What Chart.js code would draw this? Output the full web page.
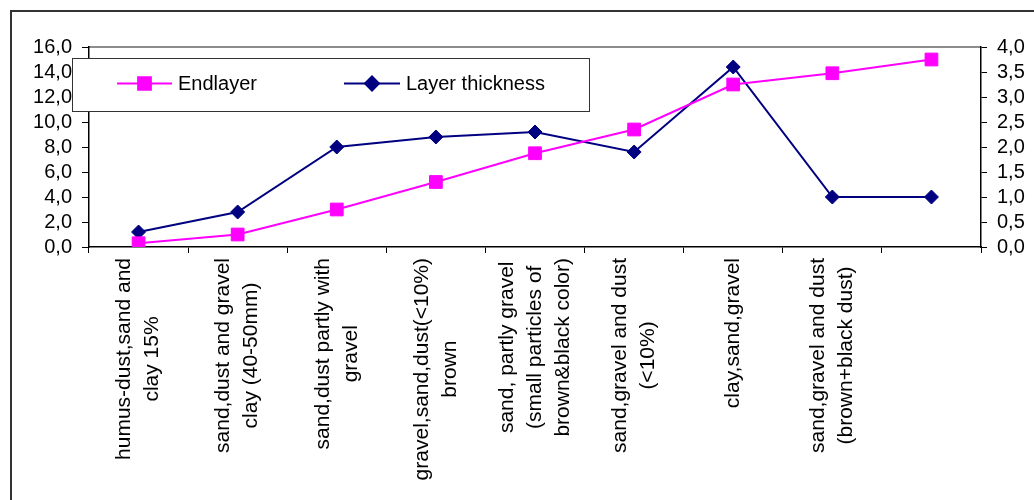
<!DOCTYPE html>
<html>
<head>
<meta charset="utf-8">
<title>Endlayer / Layer thickness</title>
<script src="https://cdn.jsdelivr.net/npm/chart.js@4/dist/chart.umd.min.js"></script>
<style>
    html, body { margin: 0; padding: 0; background: #fff; }
    #wrap { width: 1034px; height: 500px; position: relative; }
</style>
</head>
<body>
<div id="wrap"><canvas id="layerChart" width="1034" height="500"></canvas></div>
<script>
// chart data
const categories = [
    ['humus-dust,sand and', 'clay 15%'],
    ['sand,dust and gravel', 'clay (40-50mm)'],
    ['sand,dust partly with', 'gravel'],
    ['gravel,sand,dust(<10%)', 'brown'],
    ['sand, partly gravel', '(small particles of', 'brown&black color)'],
    ['sand,gravel and dust', '(<10%)'],
    ['clay,sand,gravel'],
    ['sand,gravel and dust', '(brown+black dust)'],
    ['']
];
const endlayer = [0.3, 1.0, 3.0, 5.2, 7.5, 9.4, 13.0, 13.9, 15.0];
const layerThickness = [0.3, 0.7, 2.0, 2.2, 2.3, 1.9, 3.6, 1.0, 1.0];
const seriesNames = ['Endlayer', 'Layer thickness'];
const leftAxisRange = [0, 16, 2];
const rightAxisRange = [0, 4, 0.5];

(function () {
    const FONT = "'Liberation Sans', Arial, sans-serif";
    const MAGENTA = '#ff00ff';
    const NAVY = '#000080';

    function commaFmt(v) { return Number(v).toFixed(1).replace('.', ','); }

    // frame, background and grey plot-area edge
    const backdrop = {
        id: 'backdrop',
        beforeDraw(chart) {
            const ctx = chart.ctx;
            const a = chart.chartArea;
            ctx.save();
            ctx.fillStyle = '#fff';
            ctx.fillRect(0, 0, chart.width, chart.height);
            ctx.strokeStyle = '#333';
            ctx.lineWidth = 2;
            ctx.strokeRect(11, 11, chart.width + 20, chart.height + 20);
            ctx.strokeStyle = '#8c8c8c';
            ctx.lineWidth = 2;
            ctx.beginPath();
            ctx.moveTo(a.left, a.top);
            ctx.lineTo(a.right, a.top);
            ctx.stroke();
            ctx.restore();
        }
    };

    // centred, rotated category labels (like the spreadsheet draws them)
    const catLabels = {
        id: 'catLabels',
        afterDraw(chart) {
            const ctx = chart.ctx;
            const xs = chart.scales.x;
            const top = chart.chartArea.bottom + 11;
            const lineH = 28;
            ctx.save();
            ctx.font = '21px ' + FONT;
            ctx.fillStyle = '#000';
            ctx.textAlign = 'center';
            ctx.textBaseline = 'middle';
            categories.forEach((lines, i) => {
                const x = xs.getPixelForValue(i);
                const maxW = Math.max(...lines.map(l => ctx.measureText(l).width));
                ctx.save();
                ctx.translate(x, top);
                ctx.rotate(-Math.PI / 2);
                lines.forEach((l, j) => {
                    ctx.fillText(l, -(maxW / 2), (j - (lines.length - 1) / 2) * lineH);
                });
                ctx.restore();
            });
            ctx.restore();
        }
    };

    // boxed legend with line + marker samples
    const boxLegend = {
        id: 'boxLegend',
        afterDraw(chart) {
            const ctx = chart.ctx;
            const box = { x: 72, y: 58, w: 517, h: 53 };
            const cy = box.y + box.h / 2 - 1;
            ctx.save();
            ctx.fillStyle = '#fff';
            ctx.fillRect(box.x, box.y, box.w, box.h);
            ctx.strokeStyle = '#333';
            ctx.lineWidth = 1;
            ctx.strokeRect(box.x + 0.5, box.y + 0.5, box.w, box.h);

            const items = [
                { x0: 117, x1: 172, color: MAGENTA, style: 'rect', radius: 9 },
                { x0: 344, x1: 400, color: NAVY, style: 'rectRot', radius: 7 }
            ];
            ctx.font = '20px ' + FONT;
            ctx.textBaseline = 'middle';
            items.forEach((it, i) => {
                ctx.strokeStyle = it.color;
                ctx.lineWidth = 2;
                ctx.beginPath();
                ctx.moveTo(it.x0, cy);
                ctx.lineTo(it.x1, cy);
                ctx.stroke();
                ctx.fillStyle = it.color;
                Chart.helpers.drawPoint(ctx, { pointStyle: it.style, radius: it.radius, borderWidth: 1 }, (it.x0 + it.x1) / 2, cy);
                ctx.fill();
                ctx.fillStyle = '#000';
                ctx.fillText(seriesNames[i], it.x1 + 6, cy + 1);
            });
            ctx.restore();
        }
    };

    const tickFont = { family: FONT, size: 20 };

    new Chart(document.getElementById('layerChart').getContext('2d'), {
        type: 'line',
        data: {
            labels: categories,
            datasets: [{
                label: seriesNames[0],
                data: endlayer,
                yAxisID: 'y',
                borderColor: MAGENTA,
                backgroundColor: MAGENTA,
                borderWidth: 2,
                pointStyle: 'rect',
                pointRadius: 9,
                pointBorderWidth: 1,
                tension: 0
            }, {
                label: seriesNames[1],
                data: layerThickness,
                yAxisID: 'y1',
                borderColor: NAVY,
                backgroundColor: NAVY,
                borderWidth: 2,
                pointStyle: 'rectRot',
                pointRadius: 7,
                pointBorderWidth: 1,
                tension: 0
            }]
        },
        options: {
            responsive: false,
            animation: false,
            events: [],
            layout: { padding: { top: 47, left: 0, right: 0, bottom: 0 } },
            plugins: {
                legend: { display: false },
                tooltip: { enabled: false }
            },
            scales: {
                x: {
                    offset: true,
                    grid: { offset: true, drawOnChartArea: false, color: '#000', tickLength: 6 },
                    border: { color: '#000', width: 1.5 },
                    ticks: { display: false },
                    afterFit(s) { s.height = 253; }
                },
                y: {
                    position: 'left',
                    min: leftAxisRange[0],
                    max: leftAxisRange[1],
                    grid: { drawOnChartArea: false, color: '#000', tickLength: 7 },
                    border: { color: '#000', width: 1.5 },
                    ticks: { stepSize: leftAxisRange[2], autoSkip: false, padding: 10, color: '#000', font: tickFont, callback: commaFmt },
                    afterFit(s) { s.width = 89; }
                },
                y1: {
                    position: 'right',
                    min: rightAxisRange[0],
                    max: rightAxisRange[1],
                    grid: { drawOnChartArea: false, color: '#000', tickLength: 6 },
                    border: { color: '#000', width: 1.5 },
                    ticks: { stepSize: rightAxisRange[2], autoSkip: false, padding: 10, color: '#000', font: tickFont, callback: commaFmt },
                    afterFit(s) { s.width = 53; }
                }
            }
        },
        plugins: [backdrop, catLabels, boxLegend]
    });
})();
</script>
</body>
</html>
